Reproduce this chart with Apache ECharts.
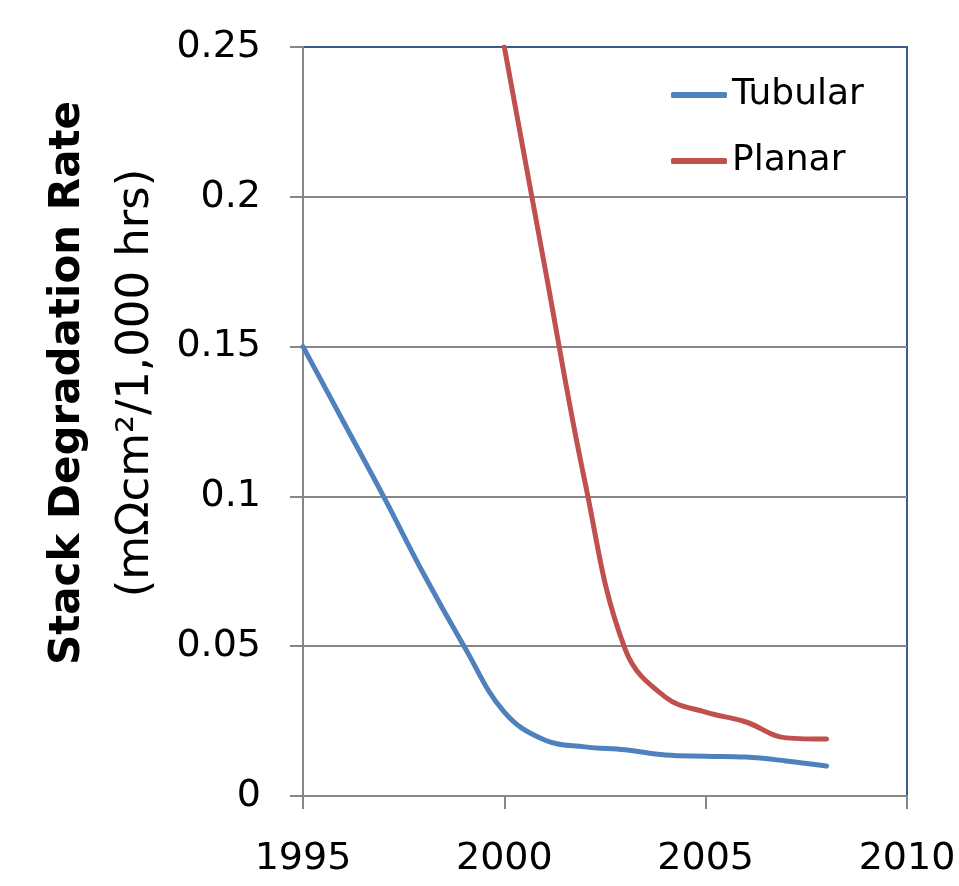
<!DOCTYPE html>
<html>
<head>
<meta charset="utf-8">
<title>Stack Degradation Rate</title>
<script src="https://cdn.jsdelivr.net/npm/echarts@6/dist/echarts.min.js"></script>
</head>
<body style="margin:0">
<div id="main" style="width:959px;height:886px;"></div>
<script type="text/javascript">
    // data
    var years = [1995, 1996, 1997, 1998, 1999, 2000, 2001, 2002, 2003, 2004, 2005, 2006, 2007, 2008];
    var tubular = [0.150, 0.125, 0.100, 0.074, 0.050, 0.028, 0.0187, 0.0164, 0.0154, 0.0137, 0.0133, 0.0130, 0.0117, 0.0100];
    var planarYears = [2000, 2001, 2002, 2003, 2004, 2005, 2006, 2007, 2008];
    var planar = [0.250, 0.177, 0.105, 0.049, 0.033, 0.028, 0.0247, 0.0194, 0.0190];

    var pairs = function (xs, ys) {
        return xs.map(function (x, i) { return [x, ys[i]]; });
    };

    var font = '"DejaVu Sans", sans-serif';
    var myChart = echarts.init(document.getElementById('main'));
    var option = {
        animation: false,
        grid: {
            left: 303, right: 52, top: 47, bottom: 90,
            show: true,
            borderColor: '#385D8A',
            borderWidth: 2
        },
        legend: {
            orient: 'vertical',
            left: 666,
            top: 72,
            itemWidth: 56,
            itemHeight: 6,
            itemGap: 30,
            icon: 'roundRect',
            textStyle: { fontSize: 36, fontFamily: font, color: '#000' },
            data: ['Tubular', 'Planar']
        },
        xAxis: {
            type: 'value',
            min: 1995, max: 2010, interval: 5,
            axisLine: { lineStyle: { color: '#868686', width: 2 } },
            axisTick: { show: true, length: 13, lineStyle: { color: '#868686', width: 2 } },
            axisLabel: {
                fontSize: 38, fontFamily: font, color: '#000', margin: 44,
                formatter: function (v) { return String(v); }
            },
            splitLine: { show: false }
        },
        yAxis: {
            type: 'value',
            min: 0, max: 0.25, interval: 0.05,
            axisLine: { show: true, lineStyle: { color: '#868686', width: 2 } },
            axisTick: { show: true, length: 13, lineStyle: { color: '#868686', width: 2 } },
            axisLabel: { fontSize: 38, fontFamily: font, color: '#000', margin: 42 },
            splitLine: { show: true, showMaxLine: false, lineStyle: { color: '#868686', width: 2 } }
        },
        graphic: [
            {
                type: 'text',
                x: 68, y: 383,
                rotation: Math.PI / 2,
                style: {
                    text: 'Stack Degradation Rate',
                    font: 'bold 42px ' + font,
                    fill: '#000',
                    align: 'center',
                    verticalAlign: 'middle'
                }
            },
            {
                type: 'text',
                x: 136, y: 383,
                rotation: Math.PI / 2,
                style: {
                    text: '(m\u03A9cm\u00B2/1,000 hrs)',
                    font: '45px ' + font,
                    fill: '#000',
                    align: 'center',
                    verticalAlign: 'middle'
                }
            }
        ],
        series: [
            {
                name: 'Tubular',
                type: 'line',
                smooth: 0.4,
                showSymbol: false,
                symbol: 'none',
                itemStyle: { color: '#4F81BD' },
                lineStyle: { color: '#4F81BD', width: 5, cap: 'round' },
                data: pairs(years, tubular)
            },
            {
                name: 'Planar',
                type: 'line',
                smooth: 0.4,
                showSymbol: false,
                symbol: 'none',
                itemStyle: { color: '#C0504D' },
                lineStyle: { color: '#C0504D', width: 5, cap: 'round' },
                data: pairs(planarYears, planar)
            }
        ]
    };
    myChart.setOption(option);
</script>
</body>
</html>
